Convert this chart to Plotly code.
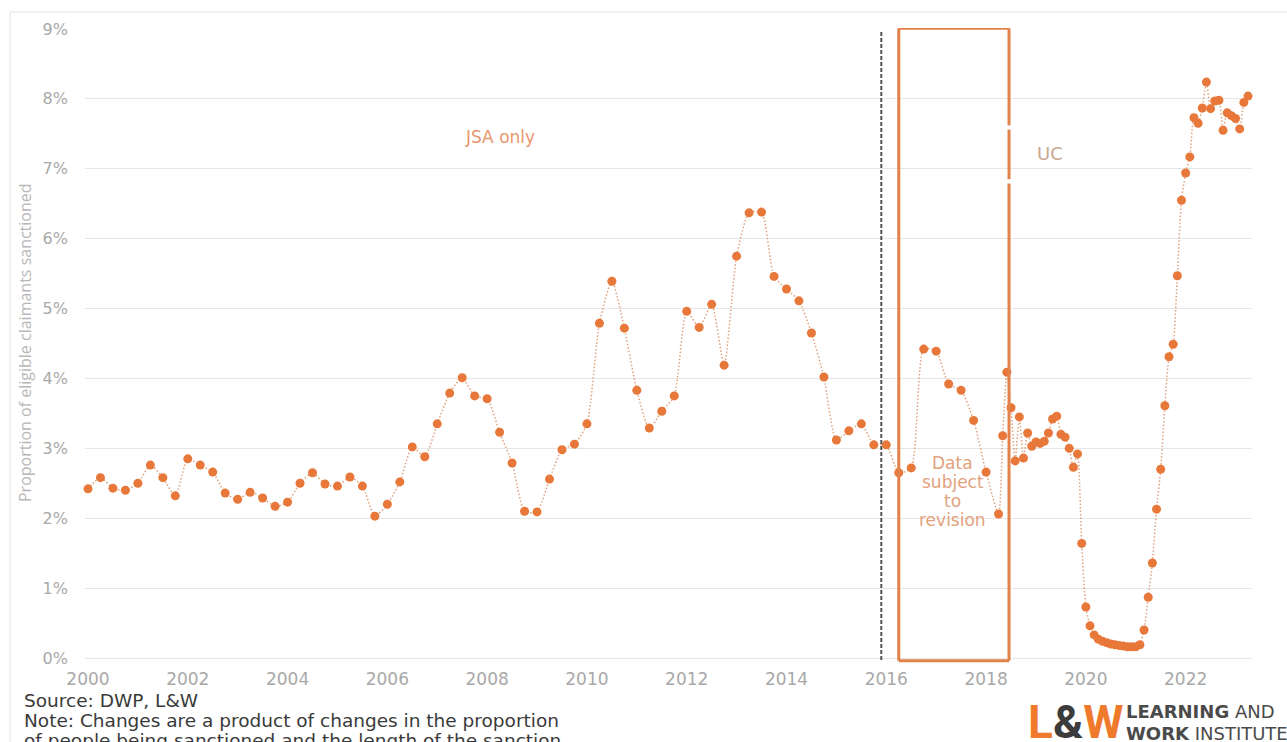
import plotly.graph_objects as go

# Quarterly series, 2000 Q1 to 2018 Q2 (% of eligible claimants sanctioned)
quarter_start = 2000.0
quarterly_values = [
    2.42, 2.58, 2.43, 2.40, 2.50, 2.76, 2.58, 2.32, 2.85, 2.76,
    2.66, 2.36, 2.27, 2.37, 2.29, 2.17, 2.23, 2.50, 2.65, 2.49,
    2.46, 2.59, 2.46, 2.03, 2.20, 2.52, 3.02, 2.88, 3.35, 3.79,
    4.01, 3.75, 3.71, 3.23, 2.79, 2.10, 2.09, 2.56, 2.98, 3.06,
    3.35, 4.79, 5.39, 4.72, 3.83, 3.29, 3.53, 3.75, 4.96, 4.73,
    5.06, 4.19, 5.75, 6.37, 6.38, 5.46, 5.28, 5.11, 4.65, 4.02,
    3.12, 3.25, 3.35, 3.05, 3.05, 2.65, 2.72, 4.42, 4.39, 3.92,
    3.83, 3.40, 2.66, 2.06,
]

# Monthly series from May 2018
month_start = 2018 + 4 / 12
monthly_values = [
    3.18, 4.09, 3.58, 2.82, 3.45, 2.86, 3.22, 3.03, 3.09, 3.07,
    3.10, 3.22, 3.42, 3.46, 3.20, 3.16, 3.00, 2.73, 2.92, 1.64,
    0.73, 0.46, 0.33, 0.27, 0.24, 0.22, 0.20, 0.19, 0.18, 0.17,
    0.16, 0.16, 0.16, 0.19, 0.40, 0.87, 1.36, 2.13, 2.70, 3.61,
    4.31, 4.49, 5.47, 6.55, 6.94, 7.17, 7.73, 7.65, 7.87, 8.24,
    7.86, 7.97, 7.98, 7.55, 7.80, 7.76, 7.72, 7.57, 7.95, 8.04,
]

x_tick_years = [2000, 2002, 2004, 2006, 2008, 2010, 2012, 2014, 2016, 2018, 2020, 2022]
y_tick_values = [0, 1, 2, 3, 4, 5, 6, 7, 8, 9]
y_tick_labels = [f"{v}%" for v in y_tick_values]

uc_start = 2015.90              # dashed marker line
revision_window = (2016.25, 2018.46)

revision_lines = ["Data", "subject", "to", "revision"]
source_lines = [
    "Source: DWP, L&amp;W",
    "Note: Changes are a product of changes in the proportion",
    "of people being sanctioned and the length of the sanction",
]

x_dates = [quarter_start + i / 4 for i in range(len(quarterly_values))] + \
          [month_start + i / 12 for i in range(len(monthly_values))]
y_vals = quarterly_values + monthly_values

ORANGE = "#E8783A"
FONT = "DejaVu Sans"

W, H = 1287, 742
L, R, T, B = 85, 1252, 28, 663


def px(x):
    return (x - L) / (R - L)


def py(y):
    return (B - y) / (B - T)


fig = go.Figure()
fig.add_trace(go.Scatter(
    x=x_dates, y=y_vals, mode="lines+markers",
    line=dict(color="#E0A27E", width=1.5, dash="1.5px,2px", shape="spline", smoothing=0.6),
    marker=dict(color=ORANGE, size=9),
    cliponaxis=False, hoverinfo="x+y",
))

shapes = []
# dashed vertical line
shapes.append(dict(type="line", xref="x", yref="y", x0=uc_start, x1=uc_start,
                   y0=-0.03, y1=8.96, line=dict(color="#555555", width=2, dash="4px,2px")))
# revision window frame
x0, x1 = revision_window
box_line = dict(color="#E2824A", width=3)
y_top, y_bot = 9.01, -0.04
shapes.append(dict(type="line", xref="x", yref="y", x0=x0, x1=x1, y0=y_top, y1=y_top, line=box_line))
shapes.append(dict(type="line", xref="x", yref="y", x0=x0, x1=x1, y0=y_bot, y1=y_bot, line=box_line))
shapes.append(dict(type="line", xref="x", yref="y", x0=x0, x1=x0, y0=y_bot, y1=y_top, line=box_line))
for a, b in [(y_top, 7.62), (7.56, 6.85), (6.79, y_bot)]:
    shapes.append(dict(type="line", xref="x", yref="y", x0=x1, x1=x1, y0=a, y1=b, line=box_line))
# outer frame (left and top edges)
shapes.append(dict(type="line", xref="paper", yref="paper", x0=px(10), x1=px(10),
                   y0=py(12), y1=py(760), line=dict(color="#E2E2E2", width=1)))
shapes.append(dict(type="line", xref="paper", yref="paper", x0=px(10), x1=px(1300),
                   y0=py(12), y1=py(12), line=dict(color="#E2E2E2", width=1)))

annotations = [
    dict(text="JSA only", x=px(500), y=py(137), font=dict(color="#E8966C", size=17)),
    dict(text="UC", x=px(1050), y=py(153), font=dict(color="#C8A88F", size=18)),
    dict(text="Proportion of eligible claimants sanctioned", x=px(25), y=py(343),
         textangle=-90, font=dict(color="#B8B8B8", size=16, family="Open Sans")),
    dict(text='<b><span style="color:#F07A2C">L</span><span style="color:#3C3C3C">&amp;</span>'
              '<span style="color:#F07A2C">W</span></b>',
         x=px(1075), y=py(722), font=dict(size=46, family="Roboto")),
    dict(text="<b>LEARNING</b> AND", x=px(1124), y=py(711), xanchor="left",
         font=dict(color="#4A4A4A", size=18)),
    dict(text="<b>WORK</b> INSTITUTE", x=px(1124), y=py(733), xanchor="left",
         font=dict(color="#4A4A4A", size=18)),
]
for i, line in enumerate(revision_lines):
    annotations.append(dict(text=line, x=px(953), y=py(463 + 19 * i),
                            font=dict(color="#E2A27E", size=17)))
for i, line in enumerate(source_lines):
    annotations.append(dict(text=line, x=px(22), y=py(700 + 20 * i), xanchor="left",
                            font=dict(color="#3A3A3A", size=18.5)))

for a in annotations:
    a.setdefault("xref", "paper")
    a.setdefault("yref", "paper")
    a.setdefault("showarrow", False)
    a.setdefault("xanchor", "center")
    a.setdefault("yanchor", "middle")
    a["font"].setdefault("family", FONT)

fig.update_layout(
    width=W, height=H,
    margin=dict(l=L, r=W - R, t=T, b=H - B, pad=0),
    paper_bgcolor="white", plot_bgcolor="white",
    showlegend=False,
    font=dict(family=FONT),
    shapes=shapes, annotations=annotations,
    xaxis=dict(range=[1999.94, 2023.33], tickvals=x_tick_years,
               ticktext=[str(v) for v in x_tick_years], showgrid=False, zeroline=False,
               showline=False, ticks="", tickfont=dict(color="#A8A8A8", size=17), ticklabelstandoff=4),
    yaxis=dict(range=[-0.0715, 9.0143], tickvals=y_tick_values, ticktext=y_tick_labels,
               showgrid=True, gridcolor="#E6E6E6", gridwidth=1, zeroline=False, showline=False,
               ticks="", tickfont=dict(color="#A8A8A8", size=16), ticklabelstandoff=16),
)

fig.write_html("out.html")
